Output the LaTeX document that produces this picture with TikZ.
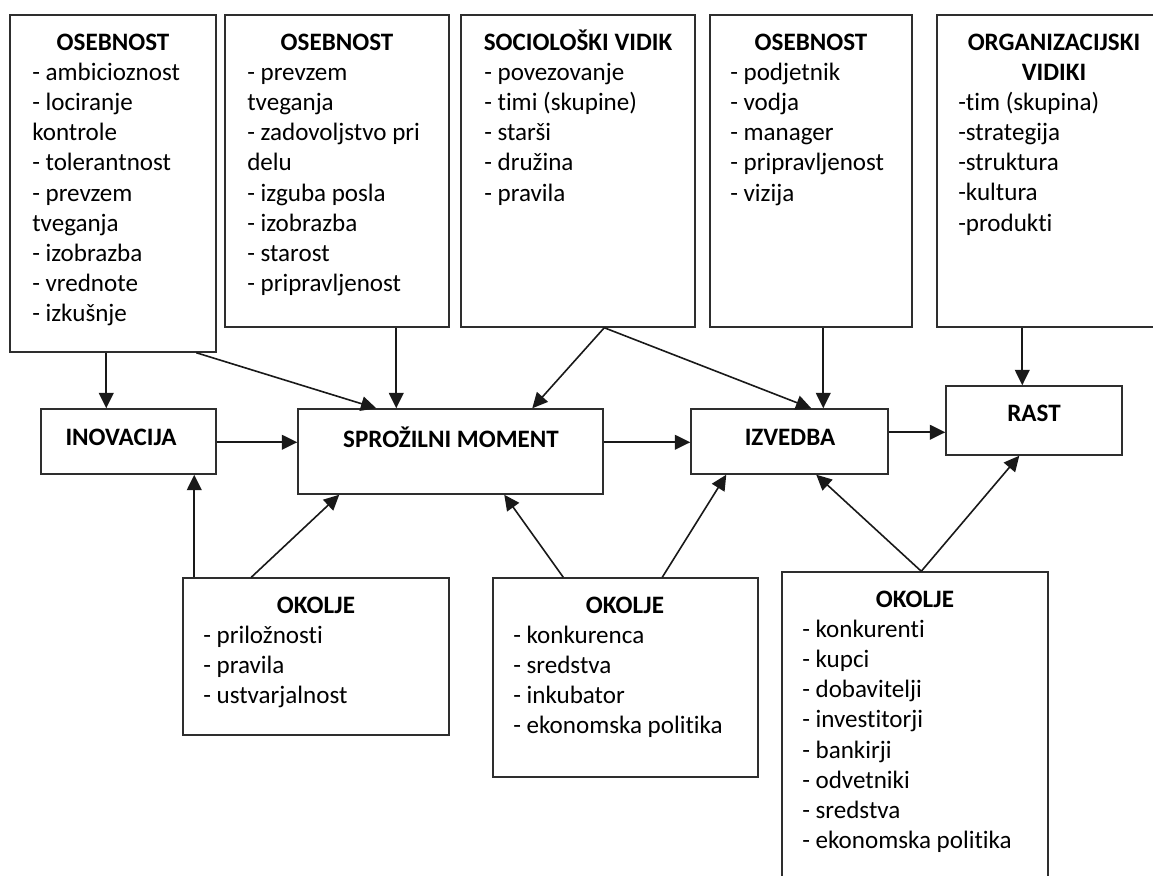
\documentclass[tikz,border=0pt]{standalone}
\usepackage{fontspec}
\setmainfont{Carlito}[Ligatures={NoCommon,NoContextual}]
\usetikzlibrary{arrows.meta,calc,fit}
\begin{document}
\begin{tikzpicture}[x=0.75pt,y=-0.75pt,
  box/.style={draw=black!82,line width=1.1pt,rectangle,inner sep=0pt,fill=none},
  ttl/.style={font=\fontsize{18.8}{22.65}\selectfont\bfseries,inner sep=0pt,text=black},
  items/.style={font=\fontsize{18.8}{22.65}\selectfont,inner sep=0pt,align=left,anchor=north west,text=black},
  arr/.style={draw=black!90,line width=1.2pt,-{Triangle[length=11.5pt,width=11pt]}}]
\useasboundingbox (0,0) rectangle (1153,875);
\fill[white] (0,0) rectangle (1153,875);
\clip (0,0) rectangle (1153,875);

% top row boxes
\node[box,fit={(10,15) (216,352)}] (o1) {};
\node[box,fit={(225,15) (449,327)}] (o2) {};
\node[box,fit={(461,15) (695,327)}] (soc) {};
\node[box,fit={(710,15) (912,327)}] (o4) {};
\node[box,fit={(937,15) (1171,327)}] (o5) {};
% middle row
\node[box,fit={(41,409) (216,474)}] (inov) {};
\node[box,fit={(298,409) (603,494)}] (spro) {};
\node[box,fit={(691,409) (888,474)}] (izv) {};
\node[box,fit={(946,386) (1122,455)}] (rast) {};
% bottom row
\node[box,fit={(183,578) (449,735)}] (ok1) {};
\node[box,fit={(493,578) (758,777)}] (ok2) {};
\node[box,fit={(782,572) (1048,900)}] (ok3) {};

% texts top row
\node[ttl,anchor=base] (o1t) at (113,50) {OSEBNOST};
\node[items] (o1i) at (32,58.86) {\strut- ambicioznost\\- lociranje\\kontrole\\- tolerantnost\\- prevzem\\tveganja\\- izobrazba\\- vrednote\\- izkušnje};
\node[ttl,anchor=base] (o2t) at (337,50) {OSEBNOST};
\node[items] (o2i) at (247,58.86) {\strut- prevzem\\tveganja\\- zadovoljstvo pri\\delu\\- izguba posla\\- izobrazba\\- starost\\- pripravljenost};
\node[ttl,anchor=base] (soct) at (578,50) {SOCIOLOŠKI VIDIK};
\node[items] (soci) at (484,58.86) {\strut- povezovanje\\- timi (skupine)\\- starši\\- družina\\- pravila};
\node[ttl,anchor=base] (o4t) at (811,50) {OSEBNOST};
\node[items] (o4i) at (730,58.86) {\strut- podjetnik\\- vodja\\- manager\\- pripravljenost\\- vizija};
\node[ttl,align=center,anchor=north] (o5t) at (1054,28.86) {\strut ORGANIZACIJSKI\\VIDIKI};
\node[items] (o5i) at (958,88.86) {\strut-tim (skupina)\\-strategija\\-struktura\\-kultura\\-produkti};

% texts middle row
\node[ttl] (inovt) at (121,437) {INOVACIJA};
\node[ttl] (sprot) at (451,437) {SPROŽILNI MOMENT};
\node[ttl] (izvt) at (790,437) {IZVEDBA};
\node[ttl] (rastt) at (1034,413) {RAST};

% texts bottom row
\node[ttl,anchor=base] (ok1t) at (316,613) {OKOLJE};
\node[items] (ok1i) at (203,621.86) {\strut- priložnosti\\- pravila\\- ustvarjalnost};
\node[ttl,anchor=base] (ok2t) at (625,613) {OKOLJE};
\node[items] (ok2i) at (513,621.86) {\strut- konkurenca\\- sredstva\\- inkubator\\- ekonomska politika};
\node[ttl,anchor=base] (ok3t) at (915,607) {OKOLJE};
\node[items] (ok3i) at (802,615.86) {\strut- konkurenti\\- kupci\\- dobavitelji\\- investitorji\\- bankirji\\- odvetniki\\- sredstva\\- ekonomska politika};

% connectors from top row
\draw[arr] ($(o1.south west)+(97,0)$) -- ($(inov.north west)+(66,0)$);
\draw[arr] ($(o1.south west)+(187,0)$) -- ($(spro.north west)+(79,0)$);
\draw[arr] ($(o2.south west)+(172,0)$) -- ($(spro.north west)+(99,0)$);
\coordinate (socx) at ($(soc.south west)+(144,0)$);
\draw[arr] (socx) -- ($(spro.north west)+(235,0)$);
\draw[arr] (socx) -- ($(izv.north west)+(121,0)$);
\draw[arr] ($(o4.south west)+(114,0)$) -- ($(izv.north west)+(133,0)$);
\draw[arr] ($(o5.south west)+(86,0)$) -- ($(rast.north west)+(77,0)$);
% horizontal chain
\draw[arr] ($(inov.north east)+(0,34)$) -- ($(spro.north west)+(0,34)$);
\draw[arr] ($(spro.north east)+(0,34)$) -- ($(izv.north west)+(0,34)$);
\draw[arr] ($(izv.north east)+(0,24)$) -- ($(rast.north west)+(0,47)$);
% connectors from bottom row
\draw[arr] ($(ok1.north west)+(12,0)$) -- ($(inov.south west)+(154,0)$);
\draw[arr] ($(ok1.north west)+(69,0)$) -- ($(spro.south west)+(42,0)$);
\draw[arr] ($(ok2.north west)+(71,0)$) -- ($(spro.south west)+(207,0)$);
\draw[arr] ($(ok2.north west)+(170,0)$) -- ($(izv.south west)+(36,0)$);
\coordinate (ok3x) at ($(ok3.north west)+(140,0)$);
\draw[arr] (ok3x) -- ($(izv.south west)+(126,0)$);
\draw[arr] (ok3x) -- ($(rast.south west)+(74,0)$);
\end{tikzpicture}
\end{document}
